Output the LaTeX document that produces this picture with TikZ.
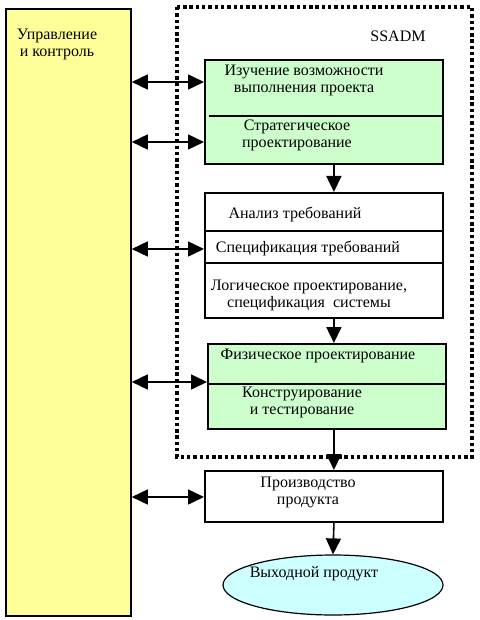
\documentclass[tikz,border=0pt]{standalone}
\usepackage{fontspec}
\setmainfont{Liberation Serif}
\usepackage{xcolor}
\usetikzlibrary{arrows.meta,shapes.geometric}
\definecolor{controlYellow}{RGB}{255,255,153}
\definecolor{stageGreen}{RGB}{204,255,204}
\definecolor{productCyan}{RGB}{204,255,255}
\tikzset{
    stage-box/.style = {draw, line width=1.8pt, rectangle, anchor=north west, inner sep=0pt},
    stage-text/.style = {align=center, inner sep=0pt, font=\fontsize{16}{17}\selectfont},
    link-arrow/.style = {line width=1.6pt, -{Triangle[length=16pt,width=15pt]}},
    both-arrow/.style = {line width=1.6pt, {Triangle[length=16pt,width=15pt]}-{Triangle[length=16pt,width=15pt]}},
}

\begin{document}
\begin{tikzpicture}[x=1pt,y=-1pt]
\useasboundingbox (0,0) rectangle (479,620);
% boxes
\node [stage-box, fill=controlYellow, minimum width=125pt, minimum height=607pt] (control-box) at (5,8) {};
\draw [line width=3.5pt, dash pattern=on 3.4pt off 2.9pt] (177,7) rectangle (472,457);
\node [stage-box, fill=stageGreen, minimum width=238pt, minimum height=104pt] (feas-box) at (204,59) {};
\node [stage-box, fill=white, minimum width=238pt, minimum height=125pt] (analysis-box) at (204,192) {};
\node [stage-box, fill=stageGreen, minimum width=238pt, minimum height=85pt] (design-box) at (207,343) {};
\node [stage-box, fill=white, minimum width=238pt, minimum height=51pt] (prod-box) at (204,470) {};
\node [draw, line width=1.2pt, ellipse, fill=productCyan, minimum width=220pt, minimum height=60pt, inner sep=0pt] (out-ell) at (333,585) {};
% dividers
\draw [line width=1.6pt] (209,116) -- (feas-box.east |- 0,116);
\draw [line width=1.6pt] (analysis-box.west |- 0,231) -- (analysis-box.east |- 0,231);
\draw [line width=1.6pt] (analysis-box.west |- 0,263) -- (analysis-box.east |- 0,263);
\draw [line width=1.6pt] (design-box.west |- 0,384) -- (design-box.east |- 0,384);
% texts
\node [stage-text] (control-lbl) at (57,44) {Управление\\и контроль};
\node [stage-text] (ssadm-lbl) at (398,36) {SSADM};
\node [stage-text] (feas-lbl) at (304,80) {Изучение возможности\\выполнения проекта};
\node [stage-text] (strat-lbl) at (297,135) {Стратегическое\\проектирование};
\node [stage-text] (req-lbl) at (295,214) {Анализ требований};
\node [stage-text] (spec-lbl) at (308,248) {Спецификация требований};
\node [stage-text] (logic-lbl) at (309,295) {Логическое проектирование,\\спецификация\ \ системы};
\node [stage-text] (phys-lbl) at (318,356) {Физическое проектирование};
\node [stage-text] (build-lbl) at (302,402) {Конструирование\\и тестирование};
\node [stage-text] (prod-lbl) at (308,492) {Производство\\продукта};
\node [stage-text] (out-lbl) at (314,574) {Выходной продукт};
% flow
\draw [link-arrow] ([xshift=10pt]feas-box.south) -- ([xshift=10pt]analysis-box.north);
\draw [link-arrow] ([xshift=10pt]analysis-box.south) -- ([xshift=7pt]design-box.north);
\draw [link-arrow] ([xshift=7pt]design-box.south) -- ([xshift=10pt]prod-box.north);
\draw [link-arrow] ([xshift=10pt]prod-box.south) -- (out-ell.north);
% control links
\draw [both-arrow] (control-box.east |- 0,82) -- (feas-box.west |- 0,82);
\draw [both-arrow] (control-box.east |- 0,142) -- (feas-box.west |- 0,142);
\draw [both-arrow] (control-box.east |- 0,249) -- (analysis-box.west |- 0,249);
\draw [both-arrow] (control-box.east |- 0,382) -- (design-box.west |- 0,382);
\draw [both-arrow] (control-box.east |- 0,497) -- (prod-box.west |- 0,497);
\end{tikzpicture}
\end{document}
